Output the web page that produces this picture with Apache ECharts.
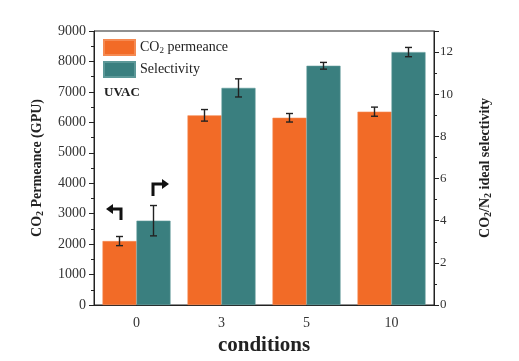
<!DOCTYPE html>
<html><head><meta charset="utf-8">
<script src="https://cdn.jsdelivr.net/npm/echarts@6/dist/echarts.min.js"></script>
<style>html,body{margin:0;padding:0;background:#fff}#c{width:519px;height:361px}</style>
</head><body><div id="c"></div>
<script>
const categories = ['0', '3', '5', '10'];
const permeance = [2100, 6230, 6150, 6350];
const permeanceErr = [150, 190, 140, 150];
const selectivity = [4.0, 10.3, 11.35, 12.0];
const selectivityErr = [0.72, 0.43, 0.16, 0.22];
const leftTicks = { min: 0, max: 9000, interval: 1000 };
const rightTicks = { min: 0, max: 13, interval: 2 };

const ORANGE = '#F26B27', TEAL = '#3A7F7F';
const serif = 'Liberation Serif';

function errItem(errs, side) {
  return function (params, api) {
    const i = api.value(0), v = api.value(1), e = api.value(2);
    const band = api.size([1, 0])[0];
    const bw = band * 0.8 / 2;
    const off = side * bw / 2;
    const top = api.coord([i, v + e]);
    const bot = api.coord([i, v - e]);
    const x = top[0] + off;
    const cap = 3.5;
    const st = { stroke: '#222', lineWidth: 1.4 };
    return { type: 'group', children: [
      { type: 'line', shape: { x1: x, y1: top[1], x2: x, y2: bot[1] }, style: st },
      { type: 'line', shape: { x1: x - cap, y1: top[1], x2: x + cap, y2: top[1] }, style: st },
      { type: 'line', shape: { x1: x - cap, y1: bot[1], x2: x + cap, y2: bot[1] }, style: st }
    ]};
  };
}

const chart = echarts.init(document.getElementById('c'), null, { renderer: 'canvas' });
const rich = {
  a: { fontFamily: serif, fontSize: 14, color: '#222', lineHeight: 15 },
  s: { fontFamily: serif, fontSize: 9, color: '#222', lineHeight: 15, verticalAlign: 'bottom', padding: [6, 0, 0, 0] },
  b: { fontFamily: serif, fontSize: 14, fontWeight: 'bold', color: '#222' },
  bs: { fontFamily: serif, fontSize: 10, fontWeight: 'bold', color: '#222', padding: [0, 0, -6, 0] }
};
chart.setOption({
  animation: false,
  grid: { left: 94, right: 85, top: 31, bottom: 55, show: true, borderColor: '#222', borderWidth: 1, backgroundColor: 'transparent' },
  legend: {
    orient: 'vertical', left: 103, top: 39, itemWidth: 31, itemHeight: 15, itemGap: 5, padding: 0,
    icon: 'rect', data: ['perm', 'sel'],
    formatter: n => n === 'perm' ? '{a|CO}{s|2}{a| permeance}' : '{a|Selectivity}',
    textStyle: { rich: rich, lineHeight: 15 }
  },
  xAxis: {
    type: 'category', data: categories,
    name: 'conditions', nameLocation: 'middle', nameGap: 30,
    nameTextStyle: { fontFamily: serif, fontSize: 21, fontWeight: 'bold', color: '#222' },
    axisLine: { lineStyle: { color: '#222', width: 1 } },
    axisTick: { alignWithLabel: true, length: 5, lineStyle: { color: '#222' } },
    axisLabel: { fontFamily: serif, fontSize: 14, color: '#333', margin: 11 }
  },
  yAxis: [{
    type: 'value', min: leftTicks.min, max: leftTicks.max, interval: leftTicks.interval,
    name: '{b|CO}{bs|2}{b| Permeance (GPU)}', nameLocation: 'middle', nameGap: 50,
    nameTextStyle: { rich: rich },
    axisLine: { show: true, lineStyle: { color: '#222' } },
    axisTick: { show: true, length: 5, lineStyle: { color: '#222' } },
    minorTick: { show: true, splitNumber: 2, length: 3, lineStyle: { color: '#222' } },
    splitLine: { show: false },
    axisLabel: { fontFamily: serif, fontSize: 14, color: '#333', margin: 8, formatter: v => String(v) }
  }, {
    type: 'value', min: rightTicks.min, max: rightTicks.max, interval: rightTicks.interval,
    position: 'right',
    name: '{b|CO}{bs|2}{b|/N}{bs|2}{b| ideal selectivity}', nameLocation: 'middle', nameGap: 44,
    nameTextStyle: { rich: rich },
    axisLine: { show: true, lineStyle: { color: '#222' } },
    axisTick: { show: true, length: 5, lineStyle: { color: '#222' } },
    minorTick: { show: true, splitNumber: 2, length: 3, lineStyle: { color: '#222' } },
    splitLine: { show: false },
    axisLabel: { fontFamily: serif, fontSize: 13, color: '#333', margin: 6, showMaxLabel: false }
  }],
  series: [
    { name: 'perm', type: 'bar', data: permeance, yAxisIndex: 0, barGap: '0%', barCategoryGap: '20%',
      itemStyle: { color: ORANGE, borderColor: '#F58A52', borderWidth: 0.6 } },
    { name: 'sel', type: 'bar', data: selectivity, yAxisIndex: 1, barGap: '0%', barCategoryGap: '20%',
      itemStyle: { color: TEAL, borderColor: '#5C9898', borderWidth: 0.6 } },
    { type: 'custom', yAxisIndex: 0, renderItem: errItem(permeanceErr, -1), z: 5,
      data: permeance.map((v, i) => [i, v, permeanceErr[i]]), encode: { x: 0, y: 1 } },
    { type: 'custom', yAxisIndex: 1, renderItem: errItem(selectivityErr, 1), z: 5,
      data: selectivity.map((v, i) => [i, v, selectivityErr[i]]), encode: { x: 0, y: 1 } }
  ],
  graphic: [
    { type: 'text', left: 104, top: 86, style: { text: 'UVAC', font: 'bold 13px "Liberation Serif"', fill: '#222' } },
    { type: 'polyline', shape: { points: [[121, 220], [121, 209], [111, 209]] }, style: { stroke: '#111', lineWidth: 3, fill: null } },
    { type: 'polygon', shape: { points: [[106, 209], [113, 204], [113, 214]] }, style: { fill: '#111' } },
    { type: 'polyline', shape: { points: [[153, 196], [153, 184], [163, 184]] }, style: { stroke: '#111', lineWidth: 3, fill: null } },
    { type: 'polygon', shape: { points: [[169, 184], [162, 179], [162, 189]] }, style: { fill: '#111' } }
  ]
});
</script></body></html>
